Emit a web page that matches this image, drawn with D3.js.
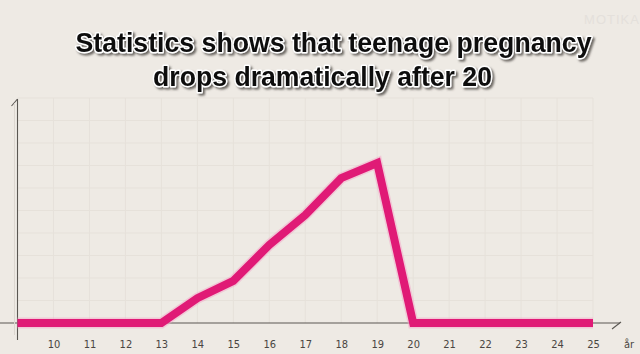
<!DOCTYPE html>
<html>
<head>
<meta charset="utf-8">
<script src="https://cdn.jsdelivr.net/npm/d3@7"></script>
<style>
  html, body { margin: 0; padding: 0; background: #eeeae4; }
  svg { display: block; }
</style>
</head>
<body>
<svg id="chart" width="640" height="354"></svg>
<script>
// ---- data ----
const ages = [9, 10, 11, 12, 13, 14, 15, 16, 17, 18, 19, 20, 21, 22, 23, 24, 25];
const values = [0, 0, 0, 0, 0, 11, 18.7, 34.7, 48, 64.4, 71.1, 0, 0, 0, 0, 0, 0];
const tickAges = [10, 11, 12, 13, 14, 15, 16, 17, 18, 19, 20, 21, 22, 23, 24, 25];
const unitLabel = "år";
const titleLines = ["Statistics shows that teenage pregnancy", "drops dramatically after 20"];
const gridValues = [10, 20, 30, 40, 50, 60, 70, 80, 90, 100];

const svg = d3.select("#chart");
const W = 640, H = 354;

svg.append("rect").attr("width", W).attr("height", H).attr("fill", "#eeeae4");

const x = d3.scaleLinear().domain([9, 25]).range([17.5, 593]);
const y = d3.scaleLinear().domain([0, 100]).range([323, 98]);

// faint grid
const grid = svg.append("g").attr("stroke", "#e6e1da").attr("stroke-width", 1);
grid.selectAll("line.v").data(tickAges).join("line")
  .attr("x1", d => x(d)).attr("x2", d => x(d))
  .attr("y1", y(100)).attr("y2", y(0));
grid.selectAll("line.h").data(gridValues).join("line")
  .attr("x1", x(9)).attr("x2", x(25))
  .attr("y1", d => y(d)).attr("y2", d => y(d));

// x axis tick labels via d3 axis
const xAxis = d3.axisBottom(x).tickValues(tickAges).tickSize(0).tickPadding(0).tickFormat(d3.format("d"));
const gx = svg.append("g").attr("transform", `translate(0, ${y(0)})`).call(xAxis);
gx.select(".domain").remove();
gx.selectAll("text")
  .attr("y", 25)
  .attr("dy", 0)
  .attr("fill", "#4a4642")
  .style("font-family", "'Liberation Sans Narrow', 'DejaVu Sans Condensed', 'Roboto', sans-serif")
  .style("font-size", "11px")
  .style("font-weight", "normal");

// unit label
svg.append("text").attr("x", 629).attr("y", y(0) + 25)
  .attr("text-anchor", "middle")
  .attr("fill", "#4a4642")
  .style("font-family", "'Liberation Sans Narrow', 'DejaVu Sans Condensed', 'Roboto', sans-serif")
  .style("font-size", "11px")
  .text(unitLabel);

// axis lines
const axisG = svg.append("g").attr("stroke", "#5a5752").attr("stroke-width", 1.1).attr("fill", "none");
axisG.append("line").attr("x1", 0).attr("x2", 620).attr("y1", y(0)).attr("y2", y(0));
axisG.append("line").attr("x1", 612).attr("x2", 621).attr("y1", y(0) + 6).attr("y2", y(0) - 1);
axisG.append("line").attr("x1", x(9)).attr("x2", x(9)).attr("y1", 99).attr("y2", 340);
axisG.append("line").attr("x1", x(9)).attr("x2", x(9) - 6).attr("y1", 99).attr("y2", 106);
svg.append("line").attr("x1", x(9) - 3).attr("x2", x(9) - 3).attr("y1", 103).attr("y2", 335)
  .attr("stroke", "#dcd7d0").attr("stroke-width", 1);

// data line
const pts = ages.map((a, i) => [a, values[i]]);
const lineGen = d3.line().x(d => x(d[0])).y(d => y(d[1]));
svg.append("path").datum(pts).attr("d", lineGen)
  .attr("fill", "none").attr("stroke", "#f3a6c8").attr("stroke-width", 11)
  .attr("stroke-linejoin", "miter").attr("stroke-opacity", 0.5);
svg.append("path").datum(pts).attr("d", lineGen)
  .attr("fill", "none").attr("stroke", "#e01a76").attr("stroke-width", 8)
  .attr("stroke-linejoin", "miter").attr("stroke-miterlimit", 10);

// title with halo and drop shadow in a single text element
const defs = svg.append("defs");
const f = defs.append("filter").attr("id", "shadow")
  .attr("x", "-5%").attr("y", "-30%").attr("width", "110%").attr("height", "160%");
f.append("feDropShadow").attr("dx", 2).attr("dy", 2).attr("stdDeviation", 1.3)
  .attr("flood-color", "#55514d").attr("flood-opacity", 0.85);

const titleY = [52, 86];
const titleW = [516, 339];
const titleX = [333.5, 322.5];
titleLines.forEach((t, i) => {
  svg.append("text").attr("x", titleX[i]).attr("y", titleY[i])
    .attr("text-anchor", "middle")
    .attr("textLength", titleW[i])
    .attr("lengthAdjust", "spacingAndGlyphs")
    .attr("fill", "#111").attr("stroke", "#ffffff").attr("stroke-width", 3)
    .attr("stroke-linejoin", "round")
    .attr("filter", "url(#shadow)")
    .style("paint-order", "stroke")
    .style("font-family", "'Liberation Sans', Arial, sans-serif")
    .style("font-weight", "bold")
    .style("font-size", "28px")
    .text(t);
});

// faint watermark
svg.append("text").attr("x", 612).attr("y", 24).attr("text-anchor", "middle")
  .attr("fill", "#e4e0db").style("font-family", "'Liberation Sans', sans-serif")
  .style("font-size", "13px").style("letter-spacing", "1px").text("MOTIKA");
</script>
</body>
</html>
